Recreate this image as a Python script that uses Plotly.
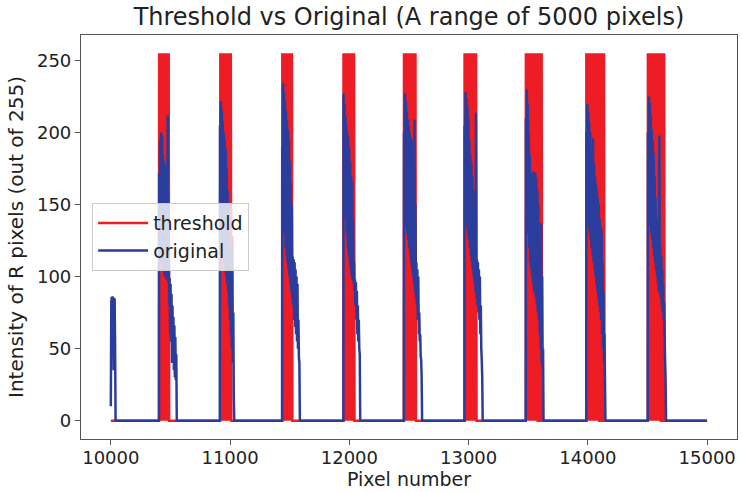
import plotly.graph_objects as go

# ---------------- data ----------------
x_ticks = [10000, 11000, 12000, 13000, 14000, 15000]
x_tick_labels = ["10000", "11000", "12000", "13000", "14000", "15000"]
y_ticks = [0, 50, 100, 150, 200, 250]
y_tick_labels = ["0", "50", "100", "150", "200", "250"]
x_last = 14999
sample_step = 4

# short leading bump of the original signal
original_lead_x = [10000, 10004, 10008, 10012, 10016, 10020, 10024, 10028, 10032, 10036, 10040]
original_lead_y = [10, 82, 86, 85, 86, 84, 35, 85, 84, 50, 0]

# bursts of the original (R intensity) signal, sampled every `sample_step` pixels
original_starts = [10405, 10915, 11437, 11951, 12458, 12966, 13480, 13987, 14503]
original_b1 = [172, 120, 195, 110, 200, 130, 198, 105, 185, 120, 180, 100, 176, 115, 174, 98, 178, 104,
               212, 96, 150, 80, 99, 60, 95, 55, 88, 40, 80, 45, 72, 35, 66, 30, 58, 28, 46]
original_b2 = [205, 150, 222, 140, 215, 130, 208, 120, 200, 110, 195, 105, 189, 100, 175, 95, 160, 90,
               151, 80, 120, 70, 95, 60, 85, 50, 128, 40, 75, 16]
original_b3 = [190, 150, 234, 140, 228, 130, 222, 120, 215, 115, 208, 110, 202, 105, 195, 100, 180, 95,
               165, 90, 150, 85, 114, 80, 112, 70, 110, 65, 105, 60, 100, 55, 95, 50, 70, 44, 40]
original_b4 = [227, 160, 220, 150, 212, 140, 205, 130, 200, 120, 197, 115, 190, 110, 180, 105, 170, 100,
               166, 98, 140, 95, 110, 90, 98, 80, 96, 70, 90, 60, 80, 55, 70, 50, 46]
original_b5 = [200, 150, 227, 140, 222, 135, 215, 130, 209, 125, 205, 120, 200, 115, 197, 110, 195, 105,
               190, 100, 185, 95, 209, 90, 150, 85, 110, 80, 105, 70, 100, 60, 75, 55, 60, 45, 42, 30]
original_b6 = [205, 150, 228, 140, 224, 135, 218, 130, 210, 125, 195, 120, 185, 115, 179, 110, 170, 105,
               160, 100, 150, 95, 140, 90, 214, 85, 112, 80, 110, 75, 105, 70, 100, 60, 80, 50, 42, 30]
original_b7 = [210, 150, 230, 140, 220, 130, 200, 120, 185, 110, 172, 105, 170, 100, 172, 95, 173, 90,
               170, 88, 172, 85, 168, 80, 160, 75, 150, 70, 121, 60, 110, 50, 137, 40, 100, 36, 50]
original_b8 = [200, 150, 220, 140, 215, 135, 207, 130, 200, 125, 190, 120, 185, 115, 196, 110, 179, 105,
               170, 100, 165, 95, 160, 90, 155, 85, 150, 80, 140, 75, 135, 70, 132, 60, 110, 50, 90, 40, 60, 28]
original_b9 = [200, 150, 225, 140, 221, 135, 212, 130, 202, 125, 195, 120, 186, 115, 170, 110, 155, 105,
               140, 100, 130, 95, 122, 90, 198, 88, 121, 85, 115, 80, 105, 75, 95, 70, 82, 60, 42, 30]

# bursts of the thresholded signal (0 / 255), sampled every `sample_step` pixels
threshold_starts = [10405, 10918, 11438, 11951, 12458, 12966, 13480, 13987, 14503]
threshold_b1 = [255, 0, 255, 0, 255, 0, 255, 0, 255, 0, 255, 0, 255, 0, 255, 0, 255, 0, 255, 0, 255, 0]
threshold_b2 = [255, 0, 255, 0, 255, 0, 255, 0, 255, 0, 255, 0, 255, 0, 255, 0, 255, 0, 255, 0, 255, 0,
                255, 0]
threshold_b3 = [255, 0, 255, 0, 255, 0, 255, 0, 255, 0, 255, 0, 255, 0, 255, 0, 255, 0, 255, 0, 255, 0]
threshold_b4 = [255, 0, 255, 0, 255, 0, 255, 0, 255, 0, 255, 0, 255, 0, 255, 0, 255, 0, 255, 0, 255, 0,
                255, 0]
threshold_b5 = [255, 0, 255, 0, 255, 0, 255, 0, 255, 0, 255, 0, 255, 0, 255, 0, 255, 0, 255, 0, 255, 0,
                255, 0, 255, 0]
threshold_b6 = [255, 0, 255, 0, 255, 0, 255, 0, 255, 0, 255, 0, 255, 0, 255, 0, 255, 0, 255, 0, 255, 0,
                255, 0, 255, 0]
threshold_b7 = [255, 0, 255, 0, 255, 0, 255, 0, 255, 0, 255, 0, 255, 0, 255, 0, 255, 0, 255, 0, 255, 0,
                255, 0, 255, 0, 0, 0, 255, 0, 255, 0, 0, 255, 0, 0]
threshold_b8 = [255, 0, 255, 0, 255, 0, 255, 0, 255, 0, 255, 0, 255, 0, 255, 0, 255, 0, 255, 0, 255, 0,
                255, 0, 255, 0, 255, 0, 0, 0, 255, 0, 0, 0, 255, 0, 0, 255, 0]
threshold_b9 = [255, 0, 255, 0, 255, 0, 255, 0, 255, 0, 255, 0, 255, 0, 255, 0, 255, 0, 255, 0, 255, 0,
                255, 0, 255, 0, 255, 0, 0, 0, 255, 0, 0, 0, 255, 0]

original_bursts = [original_b1, original_b2, original_b3, original_b4, original_b5,
                   original_b6, original_b7, original_b8, original_b9]
threshold_bursts = [threshold_b1, threshold_b2, threshold_b3, threshold_b4, threshold_b5,
                    threshold_b6, threshold_b7, threshold_b8, threshold_b9]


def assemble(lead_x, lead_y, starts, bursts, step, last_x):
    xs, ys = list(lead_x), list(lead_y)
    for s, vals in zip(starts, bursts):
        xs.append(s - 1)
        ys.append(0)
        for i, v in enumerate(vals):
            xs.append(s + i * step)
            ys.append(v)
        xs.append(s + len(vals) * step)
        ys.append(0)
    xs.append(last_x)
    ys.append(0)
    return xs, ys


orig_x, orig_y = assemble(original_lead_x, original_lead_y, original_starts,
                          original_bursts, sample_step, x_last)
thr_x, thr_y = assemble([10000], [0], threshold_starts, threshold_bursts, sample_step, x_last)

# ---------------- figure ----------------
RED = "#ee1c25"
BLUE = "#2b3d9c"
FONT = "DejaVu Sans"
TEXT = "#222222"

fig = go.Figure()
fig.add_trace(go.Scatter(x=thr_x, y=thr_y, mode="lines", name="threshold",
                         line=dict(color=RED, width=2.5, simplify=False)))
fig.add_trace(go.Scatter(x=orig_x, y=orig_y, mode="lines", name="original",
                         line=dict(color=BLUE, width=2.5, simplify=False)))

axis_common = dict(showgrid=False, zeroline=False, showline=True, mirror=True,
                   linecolor="#555555", linewidth=1.2, ticks="outside", ticklen=5,
                   tickwidth=1.2, tickcolor="#555555", automargin=True,
                   tickfont=dict(family=FONT, size=18, color=TEXT))

fig.update_layout(
    width=742, height=492,
    margin=dict(l=81, r=5, t=35, b=53),
    paper_bgcolor="white", plot_bgcolor="white",
    font=dict(family=FONT, color=TEXT),
    title=dict(text="Threshold vs Original (A range of 5000 pixels)",
               x=0.5, xref="paper", xanchor="center",
               y=1 - 17 / 492, yref="container", yanchor="middle",
               font=dict(family=FONT, size=24, color=TEXT)),
    xaxis=dict(range=[9750, 15250], tickvals=x_ticks, ticktext=x_tick_labels,
               ticklabelstandoff=-3,
               title=dict(text="Pixel number", font=dict(family=FONT, size=19, color=TEXT),
                          standoff=2),
               **axis_common),
    yaxis=dict(range=[-12.75, 267.75], tickvals=y_ticks, ticktext=y_tick_labels,
               title=dict(text="Intensity of R pixels (out of 255)",
                          font=dict(family=FONT, size=20, color=TEXT), standoff=7),
               **axis_common),
    legend=dict(x=0.017, y=0.584, xanchor="left", yanchor="top",
                bgcolor="rgba(255,255,255,0.8)", bordercolor="#cccccc", borderwidth=1,
                font=dict(family=FONT, size=19, color=TEXT),
                itemwidth=50, tracegroupgap=0),
    showlegend=True,
)

fig.write_html("out.html", config={"displayModeBar": False},
               post_script="document.body.style.margin='0px';")
